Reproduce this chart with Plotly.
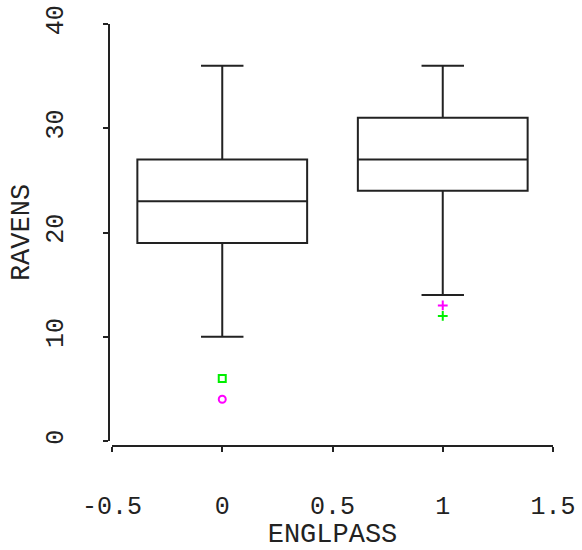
import plotly.graph_objects as go

groups = [0, 1]
q1 = [19, 24]
median = [23, 27]
q3 = [27, 31]
lower_whisker = [10, 14]
upper_whisker = [36, 36]

out_x_green = [0, 1]
out_y_green = [6, 12]
out_sym_green = ["square-open", "cross-thin-open"]
out_x_mag = [0, 1]
out_y_mag = [4, 13]
out_sym_mag = ["circle-open", "cross-thin-open"]

x_ticks = [-0.5, 0, 0.5, 1, 1.5]
x_ticklabels = ["-0.5", "0", "0.5", "1", "1.5"]
y_ticks = [0, 10, 20, 30, 40]
y_ticklabels = ["0", "10", "20", "30", "40"]

FONT = "Liberation Mono, DejaVu Sans Mono, monospace"

fig = go.Figure()
for i, g in enumerate(groups):
    fig.add_trace(go.Box(
        x=[g], q1=[q1[i]], median=[median[i]], q3=[q3[i]],
        lowerfence=[lower_whisker[i]], upperfence=[upper_whisker[i]],
        width=0.77, whiskerwidth=0.25, boxpoints=False,
        line=dict(color="#222222", width=2), fillcolor="rgba(0,0,0,0)",
        showlegend=False, hoverinfo="skip",
    ))

fig.add_trace(go.Scatter(
    x=out_x_green, y=out_y_green, mode="markers", showlegend=False,
    marker=dict(symbol=out_sym_green, size=7, color="#00ee00",
                line=dict(color="#00ee00", width=2)),
))
fig.add_trace(go.Scatter(
    x=out_x_mag, y=out_y_mag, mode="markers", showlegend=False,
    marker=dict(symbol=out_sym_mag, size=7, color="#ff00ff",
                line=dict(color="#ff00ff", width=2)),
))

fig.update_layout(
    width=582, height=550, autosize=False,
    margin=dict(l=0, r=0, t=0, b=0),
    paper_bgcolor="white", plot_bgcolor="white",
    font=dict(family=FONT, color="#222222", size=25),
    showlegend=False,
    xaxis=dict(
        domain=[112 / 582, 553 / 582], range=[-0.5, 1.5],
        anchor="free", position=1 - 446 / 550,
        tickvals=x_ticks, ticktext=x_ticklabels,
        showgrid=False, zeroline=False,
        showline=True, linecolor="#222222", linewidth=2,
        ticks="outside", ticklen=5, tickwidth=2, tickcolor="#222222",
        ticklabelstandoff=32,
        tickfont=dict(size=25, family=FONT),
        title=dict(text="ENGLPASS", font=dict(size=27, family=FONT), standoff=4),
        automargin=False,
    ),
    yaxis=dict(
        domain=[1 - 441 / 550, 1 - 24 / 550], range=[0, 40],
        anchor="free", position=109 / 582,
        tickvals=y_ticks, ticktext=y_ticklabels, tickangle=-90,
        showgrid=False, zeroline=False,
        showline=True, linecolor="#222222", linewidth=2,
        ticks="outside", ticklen=5, tickwidth=2, tickcolor="#222222",
        ticklabelstandoff=30,
        tickfont=dict(size=25, family=FONT),
        title=dict(text="RAVENS", font=dict(size=27, family=FONT), standoff=4),
        automargin=False,
    ),
)

fig.write_html("out.html")
